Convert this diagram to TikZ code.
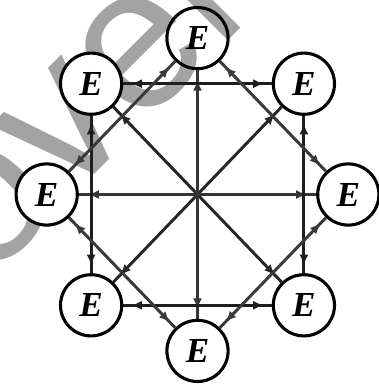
\documentclass[tikz,border=0pt]{standalone}
\usepackage{fontspec}
\setmainfont{Liberation Serif}
\newfontfamily\markfont{Liberation Sans}
\usetikzlibrary{arrows.meta,decorations.markings}

\tikzset{
    enode/.style={circle, draw=borderColour, fill=white, line width=2.2pt,
        minimum size=1.53cm, inner sep=0pt,
        font=\fontsize{25}{25}\selectfont\bfseries\itshape},
    twoway/.style={line width=2.1pt, decoration={markings,
        mark=at position 0.2cm with {\arrowreversed{Latex[length=7.5pt,width=6.5pt]}},
        mark=at position -0.2cm with {\arrow{Latex[length=7.5pt,width=6.5pt]}}},
        postaction={decorate}},
    spoke/.style={line width=2.1pt, decoration={markings,
        mark=at position 0.92 with {\arrow{Latex[length=7.5pt,width=6.5pt]}}},
        postaction={decorate}}
}

\begin{document}
\begin{tikzpicture}
    % Define colours
    \definecolor{borderColour}{HTML}{000000}
    \definecolor{squareColour}{HTML}{1E1E1E}
    \definecolor{diamondColour}{HTML}{3A3A3A}
    \definecolor{spokeColour}{HTML}{262626}
    \definecolor{axisSpokeColour}{HTML}{363636}
    \definecolor{markColour}{HTML}{A3A3A3}

    % Fix the page
    \useasboundingbox (-4.9375,-4.8125) rectangle (4.5375,4.8625);

    % Watermark behind everything
    \begin{scope}
        \clip (-4.9375,-4.8125) rectangle (4.5375,4.8625);
        \node[markColour, rotate=45, anchor=base west, inner sep=0pt,
            font=\markfont\fontsize{145}{145}\selectfont] (mark) at (-5.28,-2.22) {ovel};
    \end{scope}

    % Centre point
    \coordinate (c) at (0,0);

    % Eight E nodes round the centre
    \node[enode, fill=none] (eN) at (0,3.91) {E};
    \node[enode] (eNE) at (2.66,2.77) {E};
    \node[enode] (eE) at (3.77,0) {E};
    \node[enode] (eSE) at (2.66,-2.77) {E};
    \node[enode] (eS) at (0,-3.91) {E};
    \node[enode] (eSW) at (-2.66,-2.77) {E};
    \node[enode] (eW) at (-3.77,0) {E};
    \node[enode] (eNW) at (-2.66,2.77) {E};

    % Spokes from the centre
    \foreach \n in {eNE,eSE,eSW,eNW}
        \draw[spoke, spokeColour] (c) -- (\n);
    \foreach \n in {eN,eE,eS,eW}
        \draw[spoke, axisSpokeColour] (c) -- (\n);

    % Square through the corner nodes
    \draw[twoway, squareColour] (eNW) -- (eNE);
    \draw[twoway, squareColour] (eNE) -- (eSE);
    \draw[twoway, squareColour] (eSE) -- (eSW);
    \draw[twoway, squareColour] (eSW) -- (eNW);

    % Diamond through the axis nodes
    \draw[twoway, diamondColour] (eW) -- (eN);
    \draw[twoway, diamondColour] (eN) -- (eE);
    \draw[twoway, diamondColour] (eE) -- (eS);
    \draw[twoway, diamondColour] (eS) -- (eW);

\end{tikzpicture}
\end{document}
